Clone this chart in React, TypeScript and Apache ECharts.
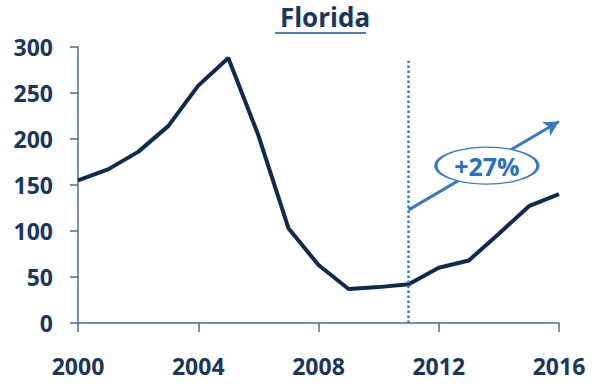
import React, { useEffect, useRef } from "react";
import * as echarts from "echarts";

// Florida index, yearly values
const years = [2000, 2001, 2002, 2003, 2004, 2005, 2006, 2007, 2008, 2009, 2010, 2011, 2012, 2013, 2014, 2015, 2016];
const values = [155, 167, 186, 214, 258, 288, 204, 103, 63, 37, 39, 42, 60, 68, 97, 127, 140];

// Vertical marker year and the trend arrow annotation
const markerYear = 2011;
const markerTop = 285;
const arrowStart = [2011, 123];
const arrowEnd = [2016, 219];
const badgeCenter = [2013.6, 171];
const badgeText = "+27%";

const NAVY = "#1b365d";
const LINE = "#10294d";
const AXIS = "#4e6a8e";
const BLUE = "#3a78c2";

export default function App() {
  const ref = useRef<HTMLDivElement>(null);

  useEffect(() => {
    if (!ref.current) return;
    const chart = echarts.init(ref.current, null, { renderer: "svg" });
    const font = "'Open Sans', Lato, sans-serif";

    chart.setOption({
      animation: false,
      title: {
        text: "Florida",
        left: 320,
        textAlign: "center",
        top: -1,
        textStyle: {
          fontFamily: font,
          fontSize: 26,
          fontWeight: "bold",
          color: NAVY,
        },
      },
      graphic: [
        {
          type: "line",
          shape: { x1: 275, y1: 33, x2: 366, y2: 33 },
          style: { stroke: "#5b7aa5", lineWidth: 2 },
        },
      ],
      grid: { left: 78, right: 33, top: 47, bottom: 61 },
      xAxis: {
        type: "value",
        min: 2000,
        max: 2016,
        interval: 4,
        axisLine: { show: true, lineStyle: { color: AXIS, width: 1.5 } },
        axisTick: { show: true, length: 9, inside: false, lineStyle: { color: AXIS, width: 1.5 } },
        splitLine: { show: false },
        axisLabel: {
          margin: 31,
          fontFamily: font,
          fontSize: 23,
          fontWeight: "bold",
          color: NAVY,
          formatter: (v: number) => String(v),
        },
      },
      yAxis: {
        type: "value",
        min: 0,
        max: 300,
        interval: 50,
        axisLine: { show: true, lineStyle: { color: AXIS, width: 1.5 } },
        axisTick: { show: true, length: 8, lineStyle: { color: AXIS, width: 1.5 } },
        splitLine: { show: false },
        axisLabel: {
          margin: 25,
          fontFamily: font,
          fontSize: 23,
          fontWeight: "bold",
          color: NAVY,
        },
      },
      series: [
        {
          type: "line",
          data: years.map((y, i) => [y, values[i]]),
          showSymbol: false,
          lineStyle: { color: LINE, width: 4 },
          z: 3,
          markLine: {
            silent: true,
            symbol: ["none", "none"],
            label: { show: false },
            lineStyle: { color: "#2b7bd4", width: 2.5, type: [2.5, 2.5] },
            data: [[{ coord: [markerYear, 0] }, { coord: [markerYear, markerTop] }]],
          },
        },
        {
          // trend arrow with the percentage badge
          type: "line",
          data: [],
          showSymbol: false,
          z: 4,
          markLine: {
            silent: true,
            symbol: ["none", "arrow"],
            symbolSize: [12, 15],
            label: { show: false },
            lineStyle: { color: BLUE, width: 3, type: "solid" },
            data: [[{ coord: arrowStart }, { coord: arrowEnd }]],
          },
          markPoint: {
            silent: true,
            data: [
              {
                coord: badgeCenter,
                symbol: "circle",
                symbolSize: [102, 37],
                itemStyle: { color: "#ffffff", borderColor: BLUE, borderWidth: 2 },
                label: {
                  show: true,
                  position: "inside",
                  formatter: badgeText,
                  fontFamily: font,
                  fontSize: 25,
                  fontWeight: "bold",
                  color: "#2a6fc0",
                },
              },
            ],
          },
        },
      ],
    });

    return () => chart.dispose();
  }, []);

  return <div ref={ref} style={{ width: 592, height: 384, position: "absolute", left: 0, top: 0 }} />;
}
